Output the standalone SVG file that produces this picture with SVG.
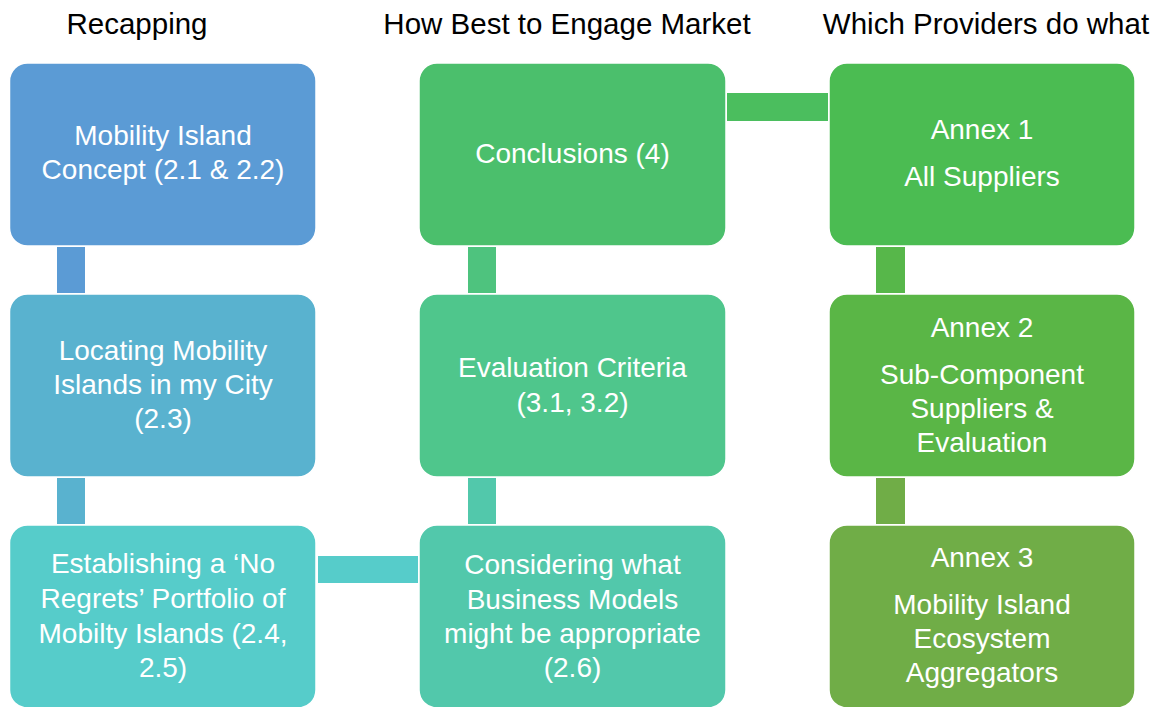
<svg xmlns="http://www.w3.org/2000/svg" width="1163" height="707" viewBox="0 0 1163 707">
<style>
.box{stroke:#ffffff;stroke-width:1.5}
.t{font-family:"Liberation Sans",Arial,sans-serif;font-size:28px;fill:#ffffff;text-anchor:middle}
.h{font-family:"Liberation Sans",Arial,sans-serif;font-size:29.5px;fill:#000000;text-anchor:middle}
</style>
<rect width="1163" height="707" fill="#ffffff"/>
<g id="headers">
<text class="h" x="137" y="34">Recapping</text>
<text class="h" x="567" y="34">How Best to Engage Market</text>
<text class="h" x="986" y="34">Which Providers do what</text>
</g>
<g id="connectors">
<rect x="57" y="247" width="28" height="46" fill="#5B9BD5"/>
<rect x="57" y="478" width="28" height="46" fill="#59B2CF"/>
<rect x="318" y="556" width="100" height="27" fill="#56CCCA"/>
<rect x="468" y="478" width="28" height="46" fill="#52C8AB"/>
<rect x="468" y="247" width="28" height="46" fill="#4EC37E"/>
<rect x="727" y="93" width="101" height="28" fill="#4BBE5E"/>
<rect x="876" y="247" width="29" height="46" fill="#57B74A"/>
<rect x="876" y="478" width="29" height="46" fill="#70AD47"/>
</g>
<g id="n1">
<rect class="box" x="9.5" y="63" width="306.5" height="183" rx="18" fill="#5B9BD5"/>
<text class="t" x="163" y="145">Mobility Island</text>
<text class="t" x="163" y="179">Concept (2.1 &amp; 2.2)</text>
</g>
<g id="n2">
<rect class="box" x="9.5" y="294" width="306.5" height="183" rx="18" fill="#59B2CF"/>
<text class="t" x="163" y="360">Locating Mobility</text>
<text class="t" x="163" y="394">Islands in my City</text>
<text class="t" x="163" y="428">(2.3)</text>
</g>
<g id="n3">
<rect class="box" x="9.5" y="525" width="306.5" height="183" rx="18" fill="#56CCCA"/>
<text class="t" x="163" y="573">Establishing a ‘No</text>
<text class="t" x="163" y="608">Regrets’ Portfolio of</text>
<text class="t" x="163" y="643">Mobilty Islands (2.4,</text>
<text class="t" x="163" y="677">2.5)</text>
</g>
<g id="n4">
<rect class="box" x="419" y="63" width="307" height="183" rx="18" fill="#4BBF6C"/>
<text class="t" x="572.5" y="163">Conclusions (4)</text>
</g>
<g id="n5">
<rect class="box" x="419" y="294" width="307" height="183" rx="18" fill="#4FC68C"/>
<text class="t" x="572.5" y="377">Evaluation Criteria</text>
<text class="t" x="572.5" y="412">(3.1, 3.2)</text>
</g>
<g id="n6">
<rect class="box" x="419" y="525" width="307" height="183" rx="18" fill="#52C8AB"/>
<text class="t" x="572.5" y="574">Considering what</text>
<text class="t" x="572.5" y="609">Business Models</text>
<text class="t" x="572.5" y="643">might be appropriate</text>
<text class="t" x="572.5" y="677">(2.6)</text>
</g>
<g id="n7">
<rect class="box" x="829" y="63" width="306" height="183" rx="18" fill="#4BBC52"/>
<text class="t" x="982" y="139">Annex 1</text>
<text class="t" x="982" y="186">All Suppliers</text>
</g>
<g id="n8">
<rect class="box" x="829" y="294" width="306" height="183" rx="18" fill="#5AB646"/>
<text class="t" x="982" y="337">Annex 2</text>
<text class="t" x="982" y="384">Sub-Component</text>
<text class="t" x="982" y="418">Suppliers &amp;</text>
<text class="t" x="982" y="452">Evaluation</text>
</g>
<g id="n9">
<rect class="box" x="829" y="525" width="306" height="183" rx="18" fill="#70AD47"/>
<text class="t" x="982" y="567">Annex 3</text>
<text class="t" x="982" y="614">Mobility Island</text>
<text class="t" x="982" y="648">Ecosystem</text>
<text class="t" x="982" y="682">Aggregators</text>
</g>
</svg>
